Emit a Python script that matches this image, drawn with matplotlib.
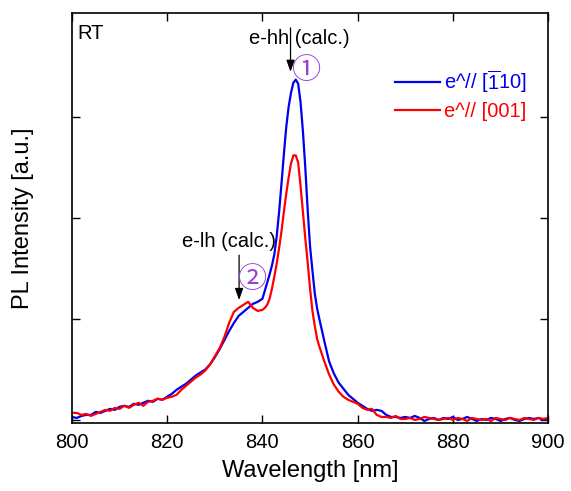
import matplotlib
matplotlib.use('Agg')
import matplotlib.pyplot as plt
import numpy as np

# フォント
plt.rcParams['font.family'] = ['Liberation Sans', 'DejaVu Sans', 'Noto Sans CJK JP']
plt.rcParams['mathtext.fontset'] = 'custom'
plt.rcParams['mathtext.rm'] = 'Liberation Sans'

# データ（波長グリッド）
wl = np.concatenate([np.arange(800, 840, 1.0),
                     np.arange(840, 852.5, 0.5),
                     np.arange(853, 901, 1.0)])

# e// [-110]
pl_110 = [0.03, 0.02, 0.04, 0.05, 0.05, 0.08, 0.07, 0.09, 0.11, 0.10,
          0.13, 0.14, 0.13, 0.16, 0.15, 0.17, 0.19, 0.18, 0.21, 0.20,
          0.23, 0.26, 0.30, 0.33, 0.36, 0.40, 0.44, 0.47, 0.50, 0.55,
          0.62, 0.70, 0.79, 0.88, 0.96, 1.03, 1.07, 1.11, 1.15, 1.17,
          1.20, 1.28, 1.36, 1.44, 1.53, 1.64, 1.82, 2.06, 2.34, 2.63,
          2.90, 3.10, 3.24, 3.34, 3.37, 3.33, 3.15, 2.86, 2.50, 2.08,
          1.72, 1.48, 1.25, 1.10, 0.99,
          0.78, 0.58, 0.46, 0.37, 0.31, 0.25, 0.21, 0.17, 0.14, 0.11,
          0.09, 0.10, 0.09, 0.05, 0.03, 0.03, 0.02, 0.03, 0.02, 0.04,
          0.02, -0.01, 0.01, 0.02, 0.00, 0.02, 0.01, 0.03, 0.00, 0.01,
          0.03, 0.01, -0.01, 0.01, 0.00, 0.02, 0.01, -0.01, 0.01, 0.02,
          0.00, -0.01, 0.01, 0.02, 0.01, 0.02, 0.00, 0.01]

# e// [001]
pl_001 = [0.07, 0.07, 0.05, 0.06, 0.04, 0.06, 0.08, 0.10, 0.09, 0.12,
          0.11, 0.14, 0.12, 0.15, 0.17, 0.14, 0.18, 0.19, 0.21, 0.20,
          0.22, 0.23, 0.25, 0.30, 0.34, 0.38, 0.42, 0.45, 0.49, 0.55,
          0.63, 0.71, 0.82, 0.96, 1.07, 1.11, 1.14, 1.17, 1.11, 1.08,
          1.09, 1.11, 1.14, 1.20, 1.30, 1.42, 1.55, 1.70, 1.87, 2.06,
          2.24, 2.40, 2.54, 2.62, 2.62, 2.55, 2.32, 2.06, 1.80, 1.56,
          1.30, 1.08, 0.93, 0.80, 0.72,
          0.58, 0.45, 0.35, 0.28, 0.23, 0.20, 0.18, 0.16, 0.12, 0.10,
          0.11, 0.05, 0.03, 0.03, 0.02, 0.04, 0.01, 0.01, 0.02, 0.00,
          0.01, 0.03, 0.02, 0.01, 0.00, 0.01, 0.02, 0.00, 0.02, 0.01,
          -0.01, 0.02, 0.01, 0.00, 0.01, -0.01, 0.02, 0.01, 0.00, 0.02,
          0.01, 0.00, 0.02, 0.01, 0.00, 0.02, 0.01, 0.02]

labels = [r'e^// [$\overline{\mathregular{1}}$10]', 'e^// [001]']
colors = ['#0000ee', '#ff0000']
purple = '#9b3fd2'

# プロット作成
fig = plt.figure(figsize=(5.71, 4.91), dpi=100)
ax = fig.add_axes([0.126, 0.1385, 0.834, 0.835])

ax.plot(wl, pl_110, color=colors[0], lw=1.6, label=labels[0])
ax.plot(wl, pl_001, color=colors[1], lw=1.6, label=labels[1])

ax.set_xlim(800, 900)
ax.set_ylim(-0.03, 4.03)
ax.set_xticks([800, 820, 840, 860, 880, 900])
ax.set_yticks([0, 1, 2, 3])
ax.set_yticklabels([])
ax.tick_params(direction='in', top=True, right=True, length=6, width=1,
               labelsize=14.5, pad=7)
for s in ax.spines.values():
    s.set_linewidth(1.2)

ax.set_xlabel('Wavelength [nm]', fontsize=17, labelpad=6)
ax.set_ylabel('PL Intensity [a.u.]', fontsize=17, labelpad=20)

# 注釈
ax.text(0.011, 0.951, 'RT', transform=ax.transAxes, fontsize=14.5,
        ha='left', va='center')
ax.annotate('', xy=(845.9, 3.42), xytext=(845.9, 3.91),
            arrowprops=dict(arrowstyle='-|>,head_width=0.25,head_length=0.7',
                            color='black', lw=0.9))
ax.text(847.8, 3.78, 'e-hh (calc.)', fontsize=14.5, ha='center', va='center')
ax.text(849.2, 3.46, '\u2460', fontsize=21, color=purple, ha='center', va='center',
        family=['Noto Sans CJK JP', 'DejaVu Sans'])

ax.annotate('', xy=(835.1, 1.16), xytext=(835.1, 1.66),
            arrowprops=dict(arrowstyle='-|>,head_width=0.25,head_length=0.7',
                            color='black', lw=0.9))
ax.text(832.9, 1.77, 'e-lh (calc.)', fontsize=14.5, ha='center', va='center')
ax.text(838.0, 1.39, '\u2461', fontsize=21, color=purple, ha='center', va='center',
        family=['Noto Sans CJK JP', 'DejaVu Sans'])

ax.legend(loc='upper left', bbox_to_anchor=(0.679, 0.866), frameon=False,
          fontsize=14.5, handlelength=2.2, handletextpad=0.2,
          labelspacing=0.35, borderpad=0, borderaxespad=0,
          labelcolor='linecolor')

fig.savefig('out.png', dpi=100)
